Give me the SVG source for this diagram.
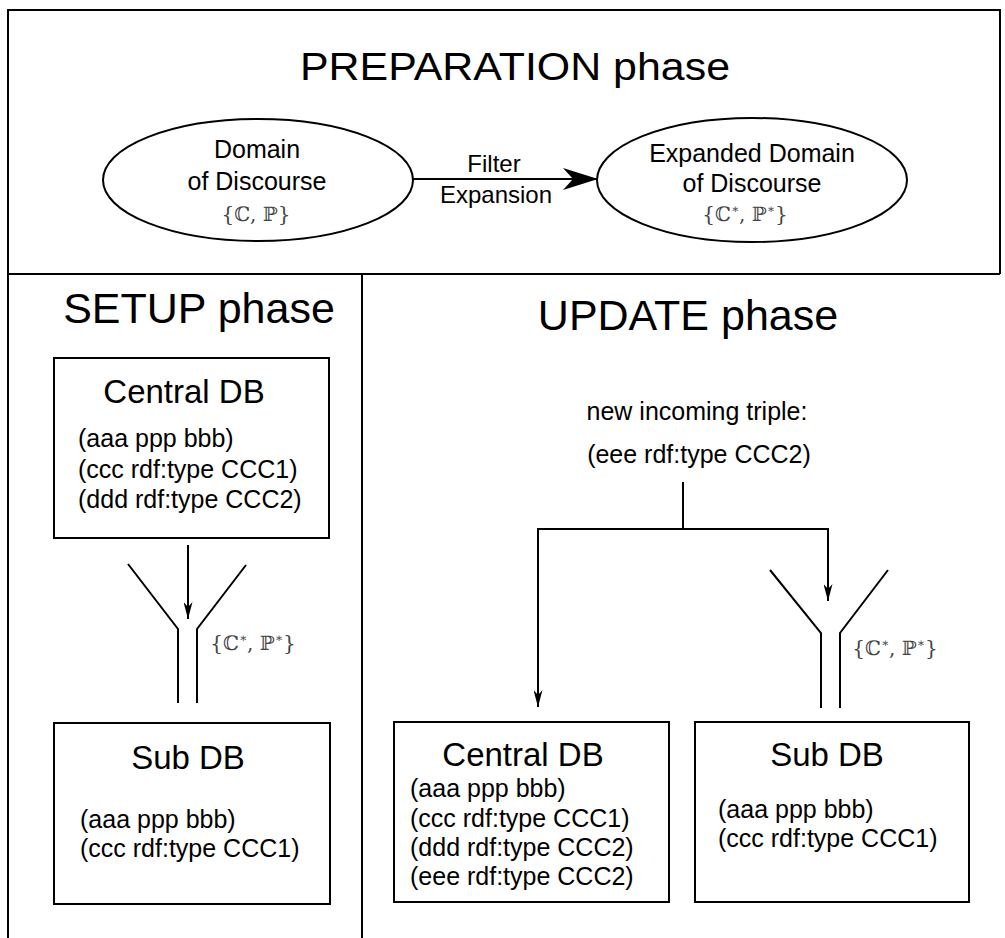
<svg xmlns="http://www.w3.org/2000/svg" width="1005" height="938" viewBox="0 0 1005 938">
<style>
.frame{fill:none;stroke:#000;stroke-width:2}
.box{fill:#fff;stroke:#000;stroke-width:2}
.ell{fill:#fff;stroke:#000;stroke-width:2}
.ln{fill:none;stroke:#000;stroke-width:2}
.conn{fill:none;stroke:#000;stroke-width:2}
.t{font-family:"Liberation Sans",Arial,sans-serif;fill:#000}
.title{font-size:43px}
.db{font-size:33px}
.row{font-size:25px}
.lbl{font-size:24px}
.m{font-family:"DejaVu Serif","Liberation Serif",serif;font-size:20px;fill:#444}
.sup{font-size:12px}
</style>
<defs>
<marker id="big" viewBox="0 0 35 22" refX="35" refY="11" markerWidth="35" markerHeight="22" markerUnits="userSpaceOnUse" orient="auto">
<path d="M0,0 L35,11 L0,22 L10,11 Z" fill="#000"/>
</marker>
<marker id="sm" viewBox="0 0 17 9" refX="17" refY="4.5" markerWidth="17" markerHeight="9" markerUnits="userSpaceOnUse" orient="auto">
<path d="M0,0 L17,4.5 L0,9 L5,4.5 Z" fill="#000"/>
</marker>
</defs>
<rect width="1005" height="938" fill="#fff"/>

<g id="frame">
<path class="frame" d="M8,938 V10 H1000 V274"/>
<path class="frame" d="M8,274 H1000"/>
<path class="frame" d="M362,274 V938"/>
</g>

<g id="titles">
<text class="t" x="515" y="80" text-anchor="middle" font-size="38" textLength="430" lengthAdjust="spacingAndGlyphs">PREPARATION phase</text>
<text class="t title" x="199" y="323" text-anchor="middle">SETUP phase</text>
<text class="t title" x="688" y="330" text-anchor="middle">UPDATE phase</text>
</g>

<g id="domain">
<ellipse class="ell" cx="258" cy="180" rx="155" ry="61"/>
<text class="t row" x="257" y="158" text-anchor="middle">Domain</text>
<text class="t row" x="257" y="190" text-anchor="middle">of Discourse</text>
<text class="m" x="256" y="221" text-anchor="middle">{ℂ, ℙ}</text>
</g>

<g id="expanded">
<ellipse class="ell" cx="752" cy="180" rx="155" ry="62"/>
<text class="t row" x="752" y="162" text-anchor="middle">Expanded Domain</text>
<text class="t row" x="752" y="192" text-anchor="middle">of Discourse</text>
<text class="m" x="745" y="221" text-anchor="middle">{ℂ<tspan class="sup" dy="-8">∗</tspan><tspan dy="8">, ℙ</tspan><tspan class="sup" dy="-8">∗</tspan><tspan dy="8">}</tspan></text>
</g>

<g id="setup-central">
<rect class="box" x="54" y="358" width="275" height="180"/>
<text class="t db" x="184" y="403" text-anchor="middle">Central DB</text>
<text class="t row" x="78" y="447">(aaa ppp bbb)</text>
<text class="t row" x="78" y="478">(ccc rdf:type CCC1)</text>
<text class="t row" x="78" y="508">(ddd rdf:type CCC2)</text>
</g>

<g id="setup-filter">
<path class="ln" d="M128,564 L178,629 V703"/>
<path class="ln" d="M246,565 L197,629 V703"/>
<text class="m" x="253" y="650" text-anchor="middle">{ℂ<tspan class="sup" dy="-8">∗</tspan><tspan dy="8">, ℙ</tspan><tspan class="sup" dy="-8">∗</tspan><tspan dy="8">}</tspan></text>
</g>

<g id="setup-sub">
<rect class="box" x="54" y="723" width="276" height="181"/>
<text class="t db" x="188" y="769" text-anchor="middle">Sub DB</text>
<text class="t row" x="80" y="828">(aaa ppp bbb)</text>
<text class="t row" x="80" y="857">(ccc rdf:type CCC1)</text>
</g>

<g id="incoming">
<text class="t row" x="697" y="420" text-anchor="middle">new incoming triple:</text>
<text class="t row" x="699" y="463" text-anchor="middle">(eee rdf:type CCC2)</text>
</g>

<g id="update-filter">
<path class="ln" d="M770,570 L821,633 V708"/>
<path class="ln" d="M888,570 L840,633 V708"/>
<text class="m" x="895" y="655" text-anchor="middle">{ℂ<tspan class="sup" dy="-8">∗</tspan><tspan dy="8">, ℙ</tspan><tspan class="sup" dy="-8">∗</tspan><tspan dy="8">}</tspan></text>
</g>

<g id="update-central">
<rect class="box" x="394" y="722" width="275" height="180"/>
<text class="t db" x="523" y="766" text-anchor="middle">Central DB</text>
<text class="t row" x="410" y="797">(aaa ppp bbb)</text>
<text class="t row" x="410" y="827">(ccc rdf:type CCC1)</text>
<text class="t row" x="410" y="856">(ddd rdf:type CCC2)</text>
<text class="t row" x="410" y="885">(eee rdf:type CCC2)</text>
</g>

<g id="update-sub">
<rect class="box" x="695" y="722" width="274" height="180"/>
<text class="t db" x="827" y="766" text-anchor="middle">Sub DB</text>
<text class="t row" x="718" y="818">(aaa ppp bbb)</text>
<text class="t row" x="718" y="847">(ccc rdf:type CCC1)</text>
</g>

<g id="connectors">
<line class="conn" x1="413" y1="179" x2="598" y2="179" marker-end="url(#big)"/>
<text class="t lbl" x="494" y="172" text-anchor="middle">Filter</text>
<text class="t lbl" x="496" y="203" text-anchor="middle">Expansion</text>
<line class="conn" x1="188" y1="545" x2="188" y2="619" stroke-width="1.5" marker-end="url(#sm)"/>
<path class="conn" d="M683,482 V529"/>
<path class="conn" d="M683,529 H538 V707" marker-end="url(#sm)"/>
<path class="conn" d="M683,529 H828 V601" marker-end="url(#sm)"/>
</g>
</svg>
